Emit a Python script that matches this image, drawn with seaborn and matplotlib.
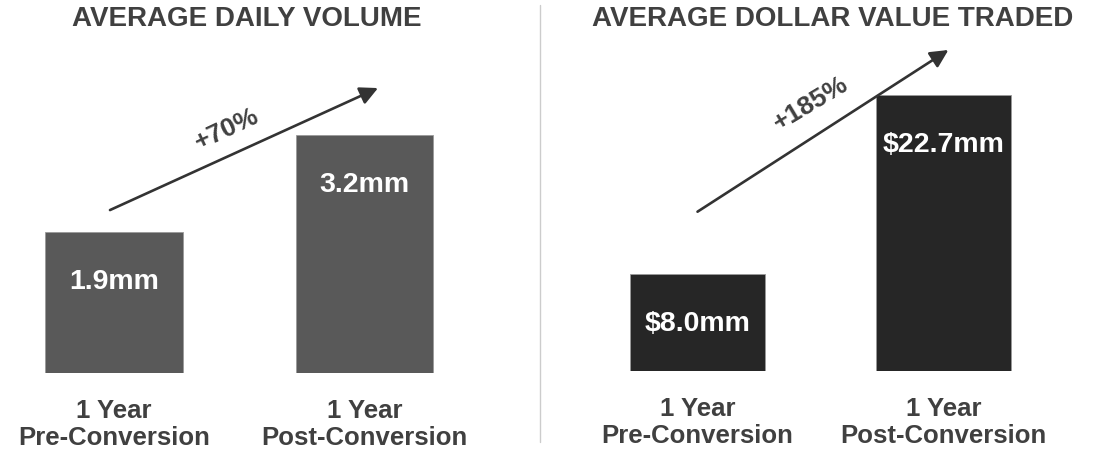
import matplotlib
matplotlib.use("Agg")
import matplotlib.pyplot as plt
import seaborn as sns
import pandas as pd

categories = ["1 Year\nPre-Conversion", "1 Year\nPost-Conversion"]
volume_values = [1.9, 3.2]
volume_labels = ["1.9mm", "3.2mm"]
dollar_values = [8.0, 22.7]
dollar_labels = ["$8.0mm", "$22.7mm"]
titles = ["AVERAGE DAILY VOLUME", "AVERAGE DOLLAR VALUE TRADED"]
growth_labels = ["+70%", "+185%"]

sns.set_theme(style="white")
plt.rcParams['font.family'] = ['Liberation Sans', 'DejaVu Sans']
plt.rcParams['font.weight'] = 'bold'

W, H = 1109, 449
fig = plt.figure(figsize=(W / 100, H / 100), dpi=100)
text_col = "#404040"

def px_axes(x0, x1, ybot, ytop):
    return [x0 / W, 1 - ybot / H, (x1 - x0) / W, (ybot - ytop) / H]

ax1 = fig.add_axes(px_axes(0, 540, 373, 40))
ax2 = fig.add_axes(px_axes(560, 1109, 371, 40))

panels = [
    (ax1, volume_values, volume_labels, "#595959", 114, 250.5, 74.4, (-0.016, 2.19), (1.054, 3.83), (0.45, 3.27), 25),
    (ax2, dollar_values, dollar_labels, "#262626", 697.5 - 560, 246, 12.16, (0.0, 13.1), (1.02, 26.4), (0.46, 21.96), 31),
]

for i, (ax, vals, labs, col, c0, spacing, scale, a0, a1, tpos, rot) in enumerate(panels):
    df = pd.DataFrame({"cat": categories, "val": vals})
    sns.barplot(data=df, x="cat", y="val", color=col, saturation=1, width=0.55,
                edgecolor="#9a9a9a", linewidth=0.6, ax=ax)
    axw = ax.get_position().width * W
    axh = ax.get_position().height * H
    ax.set_xlim(-c0 / spacing, (axw - c0) / spacing)
    ax.set_ylim(0, axh / scale)
    for s in ax.spines.values():
        s.set_visible(False)
    ax.set_xlabel("")
    ax.set_ylabel("")
    ax.set_yticks([])
    ax.tick_params(axis="x", length=0, pad=18.5)
    for t in ax.get_xticklabels():
        t.set_fontsize(18.5)
        t.set_fontweight("bold")
        t.set_color(text_col)
        t.set_linespacing(1.15)
    for j, (v, lab) in enumerate(zip(vals, labs)):
        ax.text(j, v - 50 / scale, lab, ha="center", va="center", color="white",
                fontsize=20.5, fontweight="bold")
    ax.annotate("", xy=a1, xytext=a0,
                arrowprops=dict(arrowstyle="-|>,head_length=0.9,head_width=0.45",
                                color="#333333", lw=1.9, shrinkA=0, shrinkB=0))
    ax.text(tpos[0], tpos[1], growth_labels[i], rotation=rot, ha="center", va="center",
            fontsize=19, fontweight="bold", color=text_col, rotation_mode="anchor")

fig.text(247 / W, 1 - 19 / H, titles[0], ha="center", va="center", fontsize=20,
         fontweight="bold", color=text_col)
fig.text(833 / W, 1 - 19 / H, titles[1], ha="center", va="center", fontsize=20,
         fontweight="bold", color=text_col)

fig.add_artist(plt.Line2D([540 / W, 540 / W], [1 - 5 / H, 1 - 442 / H],
                          color="#cccccc", lw=1, transform=fig.transFigure))

fig.savefig("out.png", dpi=100)
